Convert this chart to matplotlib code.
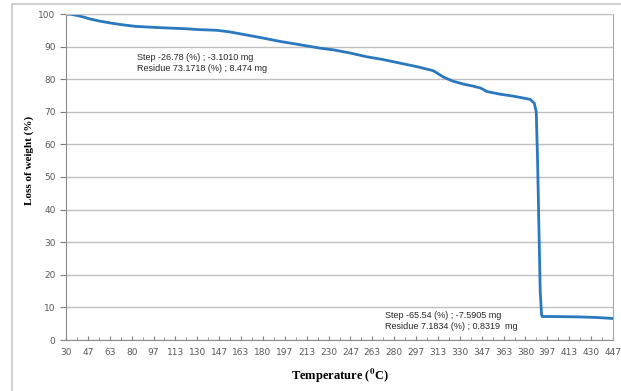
import matplotlib.pyplot as plt
from matplotlib.patches import Rectangle

# TGA curve
temp = [30, 34, 39, 44, 48, 56, 63, 71, 83, 102, 120, 132, 145, 155, 163, 178,
        193, 208, 224, 234, 247, 259, 272, 285, 298, 310, 318, 325, 333, 340,
        346, 351, 361, 371, 379, 384, 387, 388.5, 389.5, 390.5, 391.5, 392.5,
        393, 400, 420, 435, 447]
weight = [100, 99.9, 99.5, 99.0, 98.5, 97.8, 97.3, 96.8, 96.2, 95.8, 95.5, 95.2,
          95.0, 94.5, 93.9, 92.8, 91.6, 90.6, 89.5, 89.0, 88.0, 86.9, 86.0,
          84.9, 83.8, 82.6, 80.6, 79.4, 78.5, 77.9, 77.3, 76.2, 75.4, 74.8,
          74.2, 73.8, 72.6, 70.0, 55.0, 35.0, 15.0, 8.0, 7.2, 7.2, 7.1, 6.9, 6.6]

x_labels = ["30", "47", "63", "80", "97", "113", "130", "147", "163", "180", "197",
            "213", "230", "247", "263", "280", "297", "313", "330", "347", "363",
            "380", "397", "413", "430", "447"]
y_ticks = [0, 10, 20, 30, 40, 50, 60, 70, 80, 90, 100]

note1 = "Step -26.78 (%) ; -3.1010 mg\nResidue 73.1718 (%) ; 8.474 mg"
note2 = "Step -65.54 (%) ; -7.5905 mg\nResidue 7.1834 (%) ; 0.8319  mg"

plt.rcParams["mathtext.fontset"] = "stix"

step = (447 - 30) / (len(x_labels) - 1)
x_pos = [30 + i * step for i in range(len(x_labels))]
minor_pos = [p + step / 2 for p in x_pos[:-1]]

fig = plt.figure(figsize=(6.21, 3.91), dpi=100)
fig.patches.append(Rectangle((12 / 621, -0.01), 1.0, 1 - 4 / 391 + 0.01,
                             transform=fig.transFigure, fill=False,
                             edgecolor="#c8c8c8", linewidth=1.2))
ax = fig.add_axes([66 / 621, 1 - 340 / 391, (613 - 66) / 621, (340 - 14) / 391])

ax.plot(temp, weight, color="#2a78be", linewidth=2)

ax.set_xlim(30, 447)
ax.set_ylim(0, 100)
ax.set_xticks(x_pos)
ax.set_xticklabels(x_labels)
ax.set_xticks(minor_pos, minor=True)
ax.set_yticks(y_ticks)
ax.yaxis.grid(True, color="#bfbfbf", linewidth=1)
ax.set_axisbelow(True)
ax.tick_params(axis="both", labelsize=6.5, colors="#7f7f7f", labelcolor="#595959")
ax.tick_params(axis="x", direction="in", length=3, pad=6)
ax.tick_params(axis="x", which="minor", direction="in", length=2, color="#7f7f7f")
ax.tick_params(axis="y", direction="out", length=4)

for side in ["left", "bottom"]:
    ax.spines[side].set_color("#8c8c8c")
ax.spines["top"].set_color("#bfbfbf")
ax.spines["right"].set_color("#7fb4d8")

ax.text(137 / 621, 1 - 63 / 391, note1, transform=fig.transFigure, fontsize=6.5,
        family="Liberation Sans", color="#262626", va="center", linespacing=1.4)
ax.text(385 / 621, 1 - 321 / 391, note2, transform=fig.transFigure, fontsize=6.5,
        family="Liberation Sans", color="#262626", va="center", linespacing=1.4)

fig.text(340 / 621, 1 - 376 / 391, "Temperature ($^\\mathbf{0}$C)", ha="center",
         va="center", fontsize=9, fontweight="bold", family="Liberation Serif")
fig.text(29 / 621, 1 - 160 / 391, "Loss of weight (%)", ha="center",
         va="center", rotation=90, fontsize=8, fontweight="bold",
         family="Liberation Serif")

fig.savefig("out.png", dpi=100)
